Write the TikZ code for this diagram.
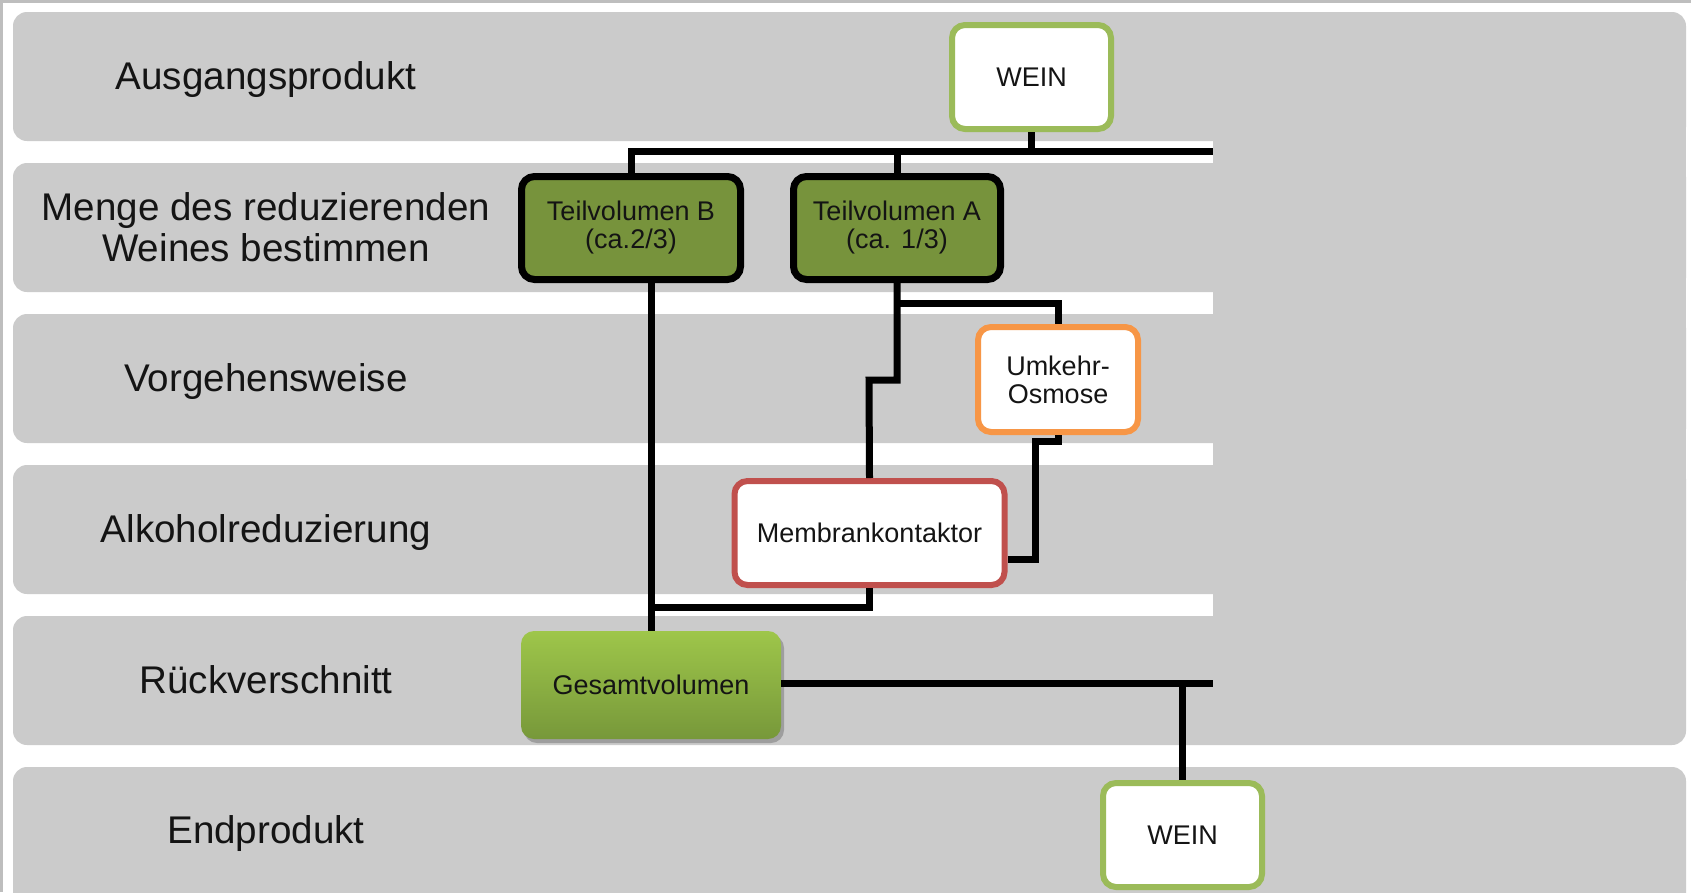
\documentclass[tikz,border=0pt]{standalone}
\usepackage{fontspec}
\setmainfont{Liberation Sans}
\usetikzlibrary{shadows}
\definecolor{lanegray}{HTML}{CBCBCB}
\definecolor{framegray}{HTML}{BEBEBE}
\definecolor{lgreen}{HTML}{9BBB59}
\definecolor{dgreen}{HTML}{77933C}
\definecolor{orangeb}{HTML}{F79646}
\definecolor{redb}{HTML}{C0504D}
\definecolor{gtop}{HTML}{9EC64A}
\definecolor{gbot}{HTML}{77983A}
\definecolor{txt}{HTML}{141414}
\tikzset{
  lanelabel/.style={font=\fontsize{38.6pt}{41pt}\selectfont, align=center, text=txt},
  boxbase/.style={font=\fontsize{27pt}{28pt}\selectfont, align=center, text=txt, inner sep=0pt, rounded corners=13pt},
  winebox/.style={boxbase, draw=lgreen, line width=6pt, fill=white, minimum width=159pt, minimum height=104pt},
  partbox/.style={boxbase, draw=black, line width=7pt, fill=dgreen, minimum height=103pt},
  osmosebox/.style={boxbase, draw=orangeb, line width=6pt, fill=white, minimum width=160pt, minimum height=105pt},
  membranbox/.style={boxbase, draw=redb, line width=6pt, fill=white, minimum width=270pt, minimum height=104pt},
  totalbox/.style={boxbase, top color=gtop, bottom color=gbot, minimum width=260pt, minimum height=108pt,
     drop shadow={shadow xshift=3pt, shadow yshift=-4pt, opacity=.35, fill=black!70}},
  conn/.style={draw=black, line width=7pt, line join=miter}
}
\begin{document}
\begin{tikzpicture}[x=1pt,y=-1pt]
\useasboundingbox (0,0) rectangle (1691,892);
\fill[white] (0,0) rectangle (1691,892);
\fill[framegray] (0,0) rectangle (1691,3);
\fill[framegray] (0,0) rectangle (3,892);
% lanes
\foreach \i in {0,...,4}
  \fill[lanegray, rounded corners=14pt] (13,12+151*\i) rectangle (1686,141+151*\i);
\fill[lanegray, rounded corners=14pt] (13,767) rectangle (1686,930);
% right block without gaps
\fill[lanegray] (1213,100) rectangle (1686,700);

% lane labels
\node[lanelabel] (l1) at (266,80) {Ausgangsprodukt};
\node[lanelabel] (l2) at (266,227) {Menge des reduzierenden\\Weines bestimmen};
\node[lanelabel] (l3) at (266,382) {Vorgehensweise};
\node[lanelabel] (l4) at (266,533) {Alkoholreduzierung};
\node[lanelabel] (l5) at (266,680) {Rückverschnitt};
\node[lanelabel] (l6) at (266,834) {Endprodukt};

% boxes
\node[winebox] (W1) at (1031.5,77) {WEIN};
\node[partbox, minimum width=219pt] (B) at (631,228) {Teilvolumen B\\(ca.2/3)};
\node[partbox, minimum width=207pt] (A) at (897,228) {Teilvolumen A\\(ca. 1/3)};
\node[osmosebox] (U) at (1058,379.5) {Umkehr-\\Osmose};
\node[membranbox] (M) at (869.5,533) {Membrankontaktor};
\node[totalbox] (G) at (651,685) {Gesamtvolumen};
\node[winebox] (W2) at (1182.5,835) {WEIN};

% connectors
\coordinate (busend) at (1213,151);
\coordinate (outend) at (1213,683);
\draw[conn] (W1.south) -- (W1.south |- busend);
\draw[conn] (B.north) -- (B.north |- busend) -- (busend);
\draw[conn] (A.north) -- (A.north |- busend);
\draw[conn] (A.south) -- (897,380) -- (869,380) -- (M.north);
\draw[conn] (897,303) -| (U.north);
\draw[conn] (U.south) |- (1035,441) -- (1035,559) -- (M.east |- 0,559);
\draw[conn] (G.north |- B.south) -- (G.north);
\draw[conn] (M.south) |- (G.north |- 0,607);
\draw[conn] (G.east |- outend) -- (outend);
\draw[conn] (W2.north |- outend) -- (W2.north);
\end{tikzpicture}
\end{document}
